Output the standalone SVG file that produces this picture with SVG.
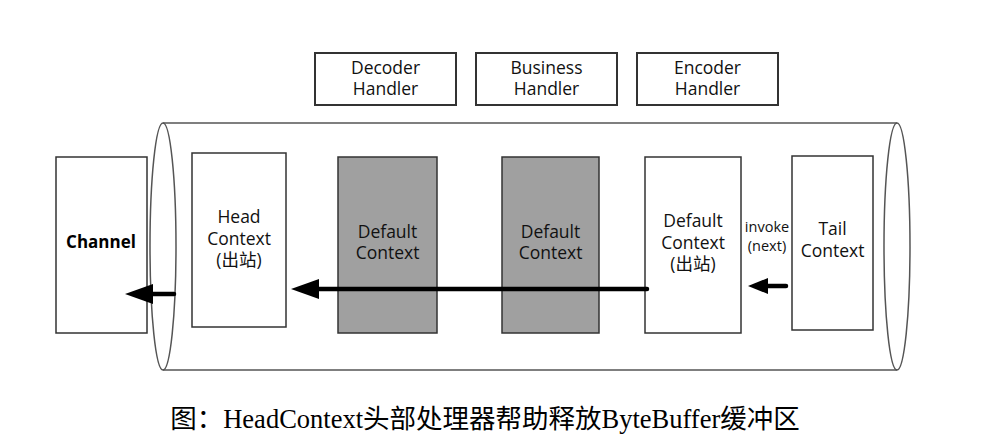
<svg xmlns="http://www.w3.org/2000/svg" width="1007" height="448" viewBox="0 0 1007 448">
<style>
.box{fill:#fff;stroke:#333;stroke-width:1.5}
.hbox{fill:#fff;stroke:#333;stroke-width:2}
.gray{fill:#a0a0a0;stroke:#333;stroke-width:1.5}
.t{font-family:"Open Sans","Noto Sans","Noto Sans CJK SC",sans-serif;font-size:17.5px;fill:#111;text-anchor:middle}
.s{font-family:"Open Sans","Noto Sans","Noto Sans CJK SC",sans-serif;font-size:14.5px;fill:#111;text-anchor:middle}
.b{font-family:"Open Sans","Noto Sans",sans-serif;font-size:17px;font-weight:bold;fill:#000;text-anchor:middle}
.cap{font-family:"Liberation Serif","Noto Sans CJK SC",serif;font-size:26.5px;fill:#000;text-anchor:middle}
.cyl{fill:none;stroke:#555;stroke-width:1.5}
.ar{stroke:#000;fill:none;stroke-linecap:round}
</style>
<rect width="1007" height="448" fill="#fff"/>
<g id="cylinder">
<path class="cyl" d="M163,123 L897,123 M163,370 L897,370"/>
<ellipse class="cyl" cx="163" cy="246.5" rx="13" ry="123.5"/>
<ellipse class="cyl" cx="897" cy="246.5" rx="13" ry="123.5"/>
</g>
<g id="decoder-handler">
<rect class="hbox" x="315" y="53" width="141" height="52"/>
<text class="t" x="385.5" y="74">Decoder</text>
<text class="t" x="385.5" y="95">Handler</text>
</g>
<g id="business-handler">
<rect class="hbox" x="476" y="53" width="141" height="52"/>
<text class="t" x="546.5" y="74">Business</text>
<text class="t" x="546.5" y="95">Handler</text>
</g>
<g id="encoder-handler">
<rect class="hbox" x="637" y="53" width="141" height="52"/>
<text class="t" x="707.5" y="74">Encoder</text>
<text class="t" x="707.5" y="95">Handler</text>
</g>
<g id="channel">
<rect class="box" x="56" y="157" width="91" height="176"/>
<text class="b" x="101" y="248">Channel</text>
</g>
<g id="head-context">
<rect class="box" x="192" y="153" width="94" height="174"/>
<text class="t" x="239" y="223">Head</text>
<text class="t" x="239" y="245">Context</text>
<text class="t" x="239" y="266">(出站)</text>
</g>
<g id="default-context-1">
<rect class="gray" x="338" y="157" width="99" height="176"/>
<text class="t" x="387.5" y="238">Default</text>
<text class="t" x="387.5" y="259">Context</text>
</g>
<g id="default-context-2">
<rect class="gray" x="502" y="157" width="97" height="176"/>
<text class="t" x="550.5" y="238">Default</text>
<text class="t" x="550.5" y="259">Context</text>
</g>
<g id="default-context-out">
<rect class="box" x="645" y="157" width="96" height="176"/>
<text class="t" x="693" y="227">Default</text>
<text class="t" x="693" y="249">Context</text>
<text class="t" x="693" y="270">(出站)</text>
</g>
<g id="tail-context">
<rect class="box" x="792" y="156" width="81" height="174"/>
<text class="t" x="832.5" y="235">Tail</text>
<text class="t" x="832.5" y="257">Context</text>
</g>
<g id="connectors">
<path class="ar" stroke-width="4.5" d="M647,289 L316,289"/>
<polygon points="291,289 319,279 319,299" fill="#000"/>
<path class="ar" stroke-width="4.5" d="M174,294 L150,294"/>
<polygon points="125,294 153,284 153,304" fill="#000"/>
<path class="ar" stroke-width="4.5" d="M786,286 L765,286"/>
<polygon points="748,286 768,278 768,294" fill="#000"/>
<text class="s" x="767" y="232">invoke</text>
<text class="s" x="767" y="251">(next)</text>
</g>
<text class="cap" x="485" y="428">图：HeadContext头部处理器帮助释放ByteBuffer缓冲区</text>
</svg>
